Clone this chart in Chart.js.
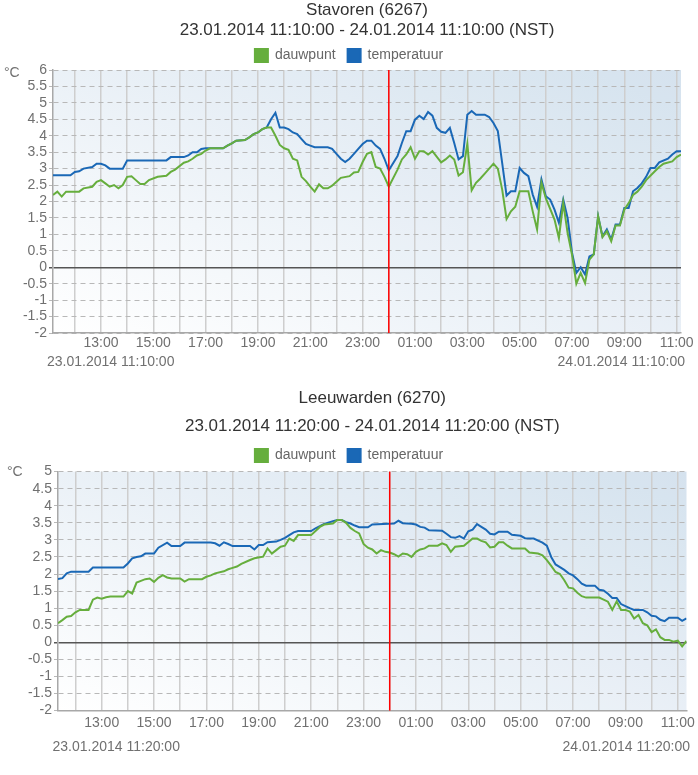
<!DOCTYPE html>
<html>
<head>
<meta charset="utf-8">
<script src="https://cdn.jsdelivr.net/npm/chart.js@4.4.1/dist/chart.umd.min.js"></script>
<style>
  body { margin: 0; background: #fff; width: 698px; height: 775px; overflow: hidden; }
  .box { position: absolute; left: 0; width: 698px; }
  #boxA { top: 0; height: 380px; }
  #boxB { top: 380px; height: 395px; }
</style>
</head>
<body>
<div class="box" id="boxA"><canvas id="chartA"></canvas></div>
<div class="box" id="boxB"><canvas id="chartB"></canvas></div>
<script>
// x values are minutes after the start of each 24h window, y is degrees C
const stavorenStart = 11 * 60 + 10;
const stavorenDew = [[0,2.2],[10,2.3],[20,2.15],[30,2.3],[60,2.3],[70,2.4],[90,2.45],[100,2.6],[110,2.65],[120,2.55],[130,2.45],[140,2.5],[150,2.4],[160,2.5],[170,2.75],[180,2.77],[190,2.65],[200,2.53],[210,2.53],[220,2.65],[240,2.75],[260,2.78],[270,2.9],[280,2.97],[300,3.18],[310,3.22],[320,3.3],[330,3.4],[340,3.45],[350,3.55],[360,3.62],[390,3.62],[400,3.7],[410,3.77],[420,3.85],[440,3.87],[450,3.95],[460,4.05],[470,4.1],[480,4.2],[490,4.25],[500,4.25],[510,4.0],[520,3.72],[530,3.62],[540,3.57],[550,3.3],[560,3.25],[570,2.75],[580,2.62],[590,2.45],[600,2.3],[610,2.52],[620,2.4],[630,2.4],[640,2.48],[650,2.6],[660,2.72],[680,2.77],[690,2.88],[700,2.9],[710,3.2],[720,3.45],[730,3.5],[740,3.05],[750,3.0],[760,2.75],[770,2.45],[790,2.97],[800,3.28],[810,3.43],[820,3.65],[830,3.3],[840,3.53],[850,3.53],[860,3.43],[870,3.53],[890,3.19],[900,3.28],[910,3.4],[920,3.28],[930,2.79],[940,2.89],[950,3.75],[960,2.34],[970,2.57],[980,2.7],[990,2.85],[1010,3.15],[1020,3.0],[1030,2.36],[1040,1.47],[1050,1.7],[1060,1.84],[1070,2.31],[1090,2.31],[1100,1.7],[1110,1.15],[1120,2.57],[1130,2.1],[1150,1.45],[1160,0.89],[1170,1.96],[1180,1.04],[1190,0.39],[1200,-0.5],[1210,-0.17],[1220,-0.48],[1230,0.23],[1240,0.39],[1250,1.55],[1260,0.92],[1270,1.1],[1280,0.79],[1290,1.27],[1300,1.27],[1310,1.75],[1320,1.95],[1330,2.2],[1340,2.3],[1350,2.45],[1360,2.65],[1380,2.92],[1390,3.05],[1400,3.15],[1420,3.22],[1430,3.35],[1440,3.43]];
const stavorenTemp = [[0,2.8],[40,2.8],[50,2.9],[60,2.92],[70,3.0],[90,3.05],[100,3.15],[110,3.15],[120,3.1],[130,3.0],[160,3.0],[170,3.25],[260,3.25],[270,3.35],[300,3.35],[310,3.4],[320,3.5],[330,3.5],[340,3.6],[350,3.62],[390,3.62],[400,3.7],[410,3.77],[420,3.85],[440,3.87],[450,3.95],[460,4.05],[470,4.1],[480,4.2],[490,4.25],[500,4.5],[510,4.7],[520,4.25],[530,4.25],[540,4.2],[550,4.1],[560,4.05],[570,3.9],[580,3.75],[590,3.7],[600,3.65],[630,3.65],[640,3.6],[650,3.45],[660,3.3],[670,3.2],[680,3.3],[690,3.45],[700,3.6],[710,3.75],[720,3.85],[730,3.85],[740,3.7],[750,3.6],[760,3.3],[770,2.95],[790,3.38],[800,3.78],[810,4.14],[820,4.14],[830,4.49],[840,4.61],[850,4.51],[860,4.72],[870,4.61],[880,4.24],[890,4.12],[900,4.09],[910,4.24],[920,3.78],[930,3.28],[940,3.38],[950,4.64],[960,4.75],[970,4.64],[990,4.64],[1000,4.57],[1010,4.39],[1020,4.14],[1030,3.17],[1040,2.18],[1050,2.31],[1060,2.31],[1070,3.02],[1080,2.87],[1090,2.77],[1100,2.21],[1110,1.84],[1120,2.67],[1130,2.16],[1140,2.06],[1150,1.75],[1160,1.35],[1170,2.06],[1180,1.5],[1190,0.45],[1200,-0.17],[1210,0.0],[1220,-0.22],[1230,0.33],[1240,0.39],[1250,1.55],[1260,0.94],[1270,1.15],[1280,0.84],[1290,1.3],[1300,1.3],[1310,1.8],[1320,1.8],[1330,2.31],[1340,2.41],[1350,2.55],[1360,2.75],[1370,3.02],[1380,3.02],[1390,3.19],[1410,3.3],[1420,3.43],[1430,3.53],[1440,3.53]];

const leeuwardenStart = 11 * 60 + 20;
const leeuwardenDew = [[0,0.56],[10,0.65],[20,0.75],[30,0.77],[40,0.88],[50,0.95],[70,0.95],[80,1.25],[90,1.31],[100,1.28],[110,1.32],[120,1.34],[150,1.34],[160,1.5],[170,1.43],[180,1.75],[190,1.8],[200,1.85],[210,1.87],[220,1.77],[230,1.89],[240,1.97],[250,1.9],[260,1.87],[280,1.87],[290,1.78],[300,1.85],[330,1.85],[340,1.92],[350,1.96],[360,2.02],[380,2.08],[390,2.14],[400,2.18],[410,2.22],[420,2.3],[440,2.41],[450,2.46],[470,2.51],[480,2.75],[490,2.6],[500,2.7],[510,2.8],[520,2.83],[530,3.04],[540,2.97],[550,3.14],[580,3.14],[590,3.26],[600,3.38],[610,3.45],[630,3.48],[640,3.58],[650,3.58],[660,3.5],[670,3.35],[680,3.26],[690,3.19],[700,2.88],[710,2.77],[720,2.72],[730,2.6],[740,2.7],[750,2.65],[760,2.63],[770,2.58],[780,2.51],[790,2.6],[800,2.58],[810,2.5],[820,2.65],[830,2.72],[840,2.75],[850,2.83],[870,2.83],[880,2.9],[890,2.85],[900,2.65],[910,2.8],[930,2.83],[950,3.04],[960,3.04],[970,2.97],[980,2.93],[990,2.78],[1000,2.8],[1010,2.93],[1020,2.93],[1030,2.83],[1040,2.75],[1070,2.75],[1080,2.63],[1100,2.6],[1110,2.55],[1120,2.41],[1130,2.24],[1140,2.06],[1150,2.0],[1160,1.82],[1170,1.6],[1180,1.58],[1190,1.45],[1200,1.35],[1210,1.31],[1240,1.31],[1250,1.25],[1260,1.19],[1270,0.95],[1280,1.2],[1290,0.95],[1300,0.95],[1310,0.9],[1320,0.7],[1330,0.8],[1340,0.56],[1350,0.5],[1360,0.3],[1370,0.38],[1380,0.15],[1390,0.07],[1400,0.07],[1410,0.02],[1420,0.05],[1430,-0.12],[1440,0.04]];
const leeuwardenTemp = [[0,1.85],[10,1.88],[20,2.02],[30,2.07],[70,2.07],[80,2.19],[150,2.19],[160,2.31],[170,2.46],[180,2.5],[190,2.52],[200,2.6],[220,2.6],[230,2.77],[250,2.92],[260,2.82],[280,2.82],[290,2.92],[350,2.92],[360,2.9],[370,2.83],[380,2.93],[390,2.88],[400,2.82],[440,2.82],[450,2.72],[460,2.85],[470,2.85],[480,2.93],[500,2.95],[510,3.0],[520,3.06],[530,3.14],[540,3.22],[550,3.26],[580,3.26],[590,3.34],[600,3.4],[610,3.47],[630,3.55],[640,3.58],[650,3.58],[660,3.52],[670,3.48],[680,3.42],[690,3.37],[710,3.37],[720,3.45],[770,3.48],[780,3.56],[790,3.49],[810,3.47],[820,3.45],[830,3.38],[840,3.36],[850,3.28],[880,3.27],[890,3.18],[900,3.08],[910,3.06],[920,3.11],[930,3.04],[940,3.25],[950,3.3],[960,3.46],[970,3.38],[980,3.3],[990,3.18],[1000,3.16],[1010,3.24],[1030,3.24],[1040,3.15],[1060,3.12],[1070,3.05],[1090,3.04],[1100,2.98],[1110,2.92],[1120,2.83],[1130,2.5],[1140,2.28],[1150,2.2],[1160,2.12],[1170,2.02],[1180,1.96],[1190,1.85],[1200,1.72],[1210,1.66],[1230,1.66],[1240,1.54],[1250,1.52],[1260,1.42],[1270,1.3],[1280,1.3],[1290,1.12],[1300,1.06],[1310,1.0],[1320,0.95],[1340,0.95],[1350,0.88],[1360,0.78],[1370,0.76],[1380,0.66],[1390,0.62],[1400,0.72],[1420,0.72],[1430,0.63],[1440,0.7]];

// hourly grid from 12:00 on day one to 11:00 on day two, labels on odd hours
const xTickLabels = ['', '13:00', '', '15:00', '', '17:00', '', '19:00', '', '21:00', '', '23:00',
                     '', '01:00', '', '03:00', '', '05:00', '', '07:00', '', '09:00', '', '11:00'];
const firstTick = 12 * 60;
const midnight = 24 * 60;

const DEW_COLOR = '#66ae3d';
const TEMP_COLOR = '#1a68b6';
const FONT = "'Liberation Sans', Arial, Helvetica, sans-serif";

Chart.defaults.font.family = FONT;
Chart.defaults.color = '#707070';

function toPoints(start, pairs) {
    return pairs.map(p => ({ x: start + p[0], y: p[1] }));
}

const plotDecor = {
    id: 'plotDecor',
    beforeLayout(chart, args, opts) {
        // legend sits a bit closer to the plot than chart.js allows
        const lg = chart.legend;
        if (lg && !lg._trimmed) {
            const fit = lg.fit;
            lg.fit = function () { fit.call(this); this.height -= opts.legendTrim; };
            lg._trimmed = true;
        }
    },
    beforeDraw(chart, args, opts) {
        const { ctx, chartArea: a, scales } = chart;
        const w = a.right - a.left, h = a.bottom - a.top;
        const cx = (a.left + a.right) / 2, cy = (a.top + a.bottom) / 2;
        const s = w * h / (w * w + h * h);
        const g = ctx.createLinearGradient(cx - s * h, cy + s * w, cx + s * h, cy - s * w);
        g.addColorStop(0, '#ffffff');
        g.addColorStop(1, '#d6e3ef');
        ctx.save();
        ctx.fillStyle = g;
        ctx.fillRect(a.left, a.top, w, h);
        const mid = scales.x.getPixelForValue(midnight);
        ctx.fillStyle = 'rgba(190, 208, 228, 0.05)';
        ctx.fillRect(mid, a.top, a.right - mid, h);
        ctx.restore();
    },
    afterDatasetsDraw(chart, args, opts) {
        const { ctx, chartArea: a, scales } = chart;
        const mid = scales.x.getPixelForValue(midnight);
        ctx.save();
        ctx.strokeStyle = '#ff0000';
        ctx.lineWidth = 1.5;
        ctx.beginPath();
        ctx.moveTo(mid, a.top);
        ctx.lineTo(mid, a.bottom);
        ctx.stroke();
        ctx.font = '14px ' + FONT;
        ctx.fillStyle = '#707070';
        ctx.textBaseline = 'middle';
        ctx.textAlign = 'left';
        ctx.fillText('°C', opts.unitX, a.top + opts.unitDy);
        ctx.fillText(opts.fromText, a.left + opts.dateDx[0], a.bottom + opts.dateDy);
        ctx.textAlign = 'right';
        ctx.fillText(opts.toText, a.right + opts.dateDx[1], a.bottom + opts.dateDy);
        ctx.restore();
    }
};

function buildChart(canvasId, cfg) {
    const isZero = c => c.tick && c.tick.value === 0;
    return new Chart(document.getElementById(canvasId), {
        type: 'line',
        data: {
            datasets: [
                {
                    label: 'dauwpunt',
                    data: toPoints(cfg.start, cfg.dew),
                    borderColor: DEW_COLOR,
                    backgroundColor: DEW_COLOR,
                    borderWidth: 2,
                    pointRadius: 0,
                    tension: 0
                },
                {
                    label: 'temperatuur',
                    data: toPoints(cfg.start, cfg.temp),
                    borderColor: TEMP_COLOR,
                    backgroundColor: TEMP_COLOR,
                    borderWidth: 2,
                    pointRadius: 0,
                    tension: 0
                }
            ]
        },
        options: {
            responsive: true,
            maintainAspectRatio: false,
            animation: false,
            events: [],
            layout: { padding: { top: cfg.padTop, left: 0, right: 0, bottom: 0 } },
            plugins: {
                title: {
                    display: true,
                    text: cfg.title,
                    fullSize: false,
                    color: '#333',
                    font: { size: 17, weight: 'normal' },
                    padding: { top: 0, bottom: 0 }
                },
                subtitle: {
                    display: true,
                    text: cfg.subtitle,
                    fullSize: false,
                    color: '#333',
                    font: { size: 17, weight: 'normal' },
                    padding: { top: cfg.subTop, bottom: cfg.subBottom }
                },
                legend: {
                    labels: {
                        boxWidth: 13,
                        boxHeight: 13,
                        padding: 12,
                        color: '#666',
                        font: { size: 14 }
                    }
                },
                tooltip: { enabled: false },
                plotDecor: {
                    legendTrim: cfg.legendTrim,
                    unitX: cfg.unitX,
                    unitDy: cfg.unitDy,
                    fromText: cfg.fromText,
                    toText: cfg.toText,
                    dateDx: cfg.dateDx,
                    dateDy: cfg.dateDy
                }
            },
            scales: {
                x: {
                    type: 'linear',
                    min: cfg.start,
                    max: cfg.start + 1440,
                    afterBuildTicks: scale => {
                        scale.ticks = xTickLabels.map((l, i) => ({ value: firstTick + 60 * i }));
                    },
                    afterFit: scale => {
                        scale.height = cfg.xHeight;
                        scale.paddingLeft = 0;
                        scale.paddingRight = cfg.padRight;
                    },
                    grid: { color: '#cecece', lineWidth: 1.5, drawTicks: false },
                    border: { color: '#a8a8a8', width: 1.5 },
                    ticks: {
                        autoSkip: false,
                        maxRotation: 0,
                        padding: cfg.tickPad,
                        font: { size: 14 },
                        callback: (v, i) => xTickLabels[i]
                    }
                },
                y: {
                    min: cfg.yMin,
                    max: cfg.yMax,
                    afterFit: scale => { scale.width = cfg.yWidth; },
                    ticks: {
                        stepSize: 0.5,
                        autoSkip: false,
                        padding: 2,
                        font: { size: 14 },
                        callback: v => String(v)
                    },
                    grid: {
                        color: c => isZero(c) ? '#555' : '#b8b8b8',
                        lineWidth: c => isZero(c) ? 1.5 : 1,
                        tickLength: 4
                    },
                    border: {
                        color: '#a8a8a8',
                        width: 1.5,
                        dash: c => isZero(c) ? [] : [5, 4]
                    }
                }
            }
        },
        plugins: [plotDecor]
    });
}

buildChart('chartA', {
    title: 'Stavoren (6267)',
    subtitle: '23.01.2014 11:10:00 - 24.01.2014 11:10:00 (NST)',
    fromText: '23.01.2014 11:10:00',
    toText: '24.01.2014 11:10:00',
    start: stavorenStart,
    dew: stavorenDew,
    temp: stavorenTemp,
    yMin: -2, yMax: 6,
    padTop: 0, subTop: 0, subBottom: -4.3, legendTrim: 2.5,
    yWidth: 53, xHeight: 47, padRight: 17, tickPad: 2,
    unitX: 4, unitDy: 3, dateDx: [-6, 4], dateDy: 28.7
});

buildChart('chartB', {
    title: 'Leeuwarden (6270)',
    subtitle: '23.01.2014 11:20:00 - 24.01.2014 11:20:00 (NST)',
    fromText: '23.01.2014 11:20:00',
    toText: '24.01.2014 11:20:00',
    start: leeuwardenStart,
    dew: leeuwardenDew,
    temp: leeuwardenTemp,
    yMin: -2, yMax: 5,
    padTop: 8.3, subTop: 7, subBottom: 0.4, legendTrim: 0.9,
    yWidth: 58, xHeight: 64.4, padRight: 11.5, tickPad: 4,
    unitX: 7, unitDy: 1, dateDx: [-5.5, 3.5], dateDy: 36.4
});
</script>
</body>
</html>
